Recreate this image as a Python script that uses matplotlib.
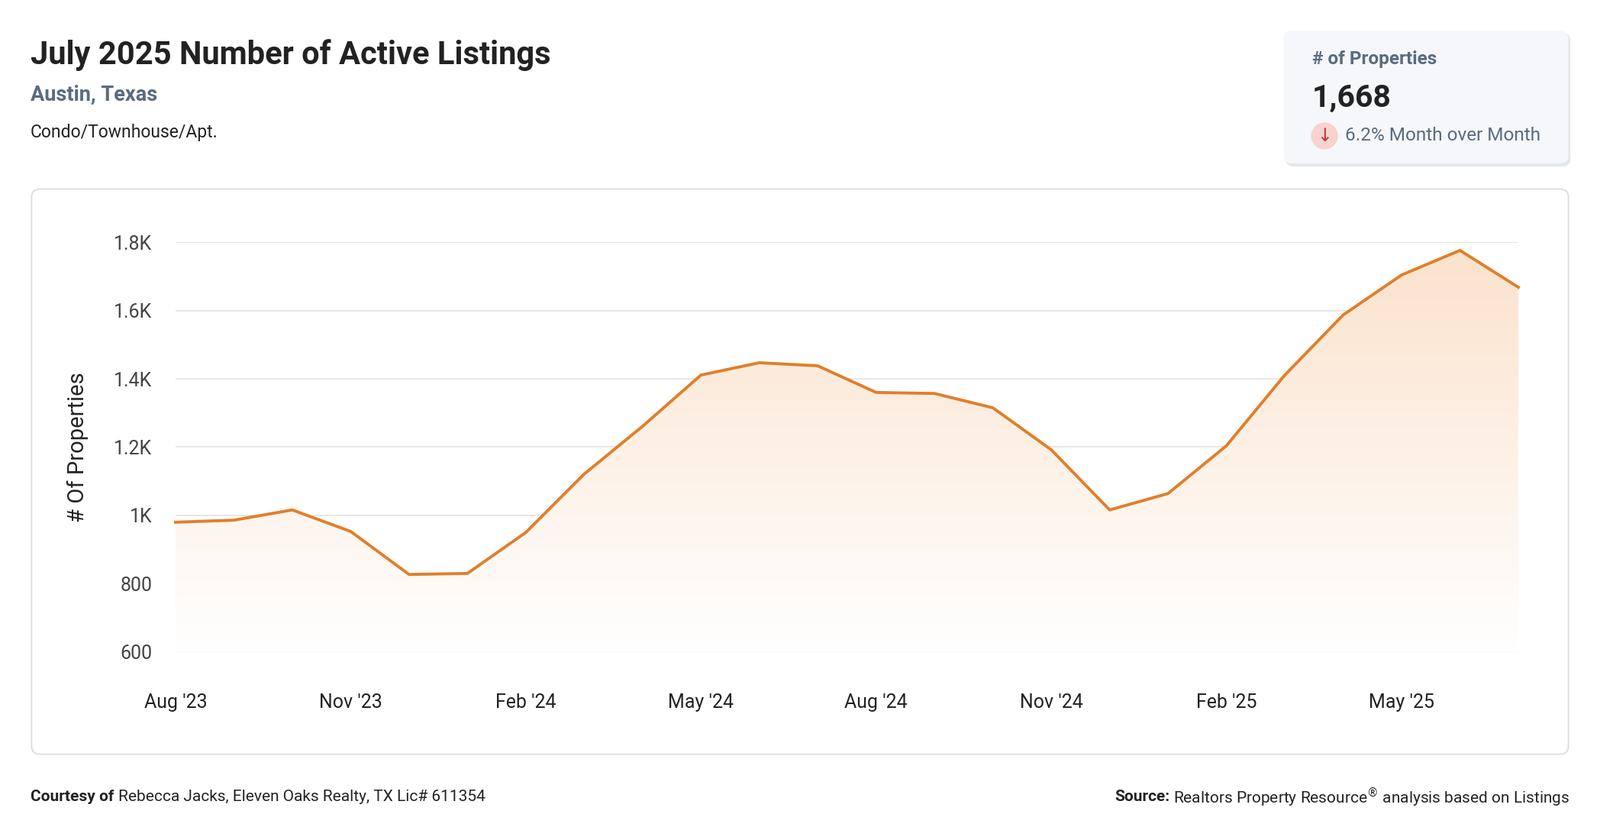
import matplotlib
matplotlib.use("Agg")
import matplotlib.pyplot as plt
import numpy as np
from matplotlib.patches import FancyBboxPatch, Ellipse
from matplotlib.path import Path
from matplotlib.patches import PathPatch

months = ["Aug '23","Sep '23","Oct '23","Nov '23","Dec '23","Jan '24","Feb '24","Mar '24","Apr '24",
          "May '24","Jun '24","Jul '24","Aug '24","Sep '24","Oct '24","Nov '24","Dec '24","Jan '25",
          "Feb '25","Mar '25","Apr '25","May '25","Jun '25","Jul '25"]
values = [980, 986, 1016, 953, 827, 830, 950, 1121, 1261, 1411, 1447, 1438, 1360, 1357, 1315, 1192,
          1016, 1064, 1204, 1411, 1587, 1704, 1776, 1668]
yticks = [600, 800, 1000, 1200, 1400, 1600, 1800]
ytick_labels = ["600", "800", "1K", "1.2K", "1.4K", "1.6K", "1.8K"]
xtick_idx = [0, 3, 6, 9, 12, 15, 18, 21]

plt.rcParams["font.family"] = "Roboto"
W, H = 1568, 822
fig = plt.figure(figsize=(20.96, 11), dpi=100)
def fx(x): return x / W
def fy(y): return 1 - y / H

def card(x0, y0, x1, y1, fc, ec, z):
    fig.patches.append(FancyBboxPatch((fx(x0), fy(y1)), fx(x1) - fx(x0), fy(y0) - fy(y1),
        boxstyle="round,pad=0,rounding_size=0.005", mutation_aspect=W / H,
        transform=fig.transFigure, facecolor=fc, edgecolor=ec, linewidth=1.3, zorder=z))

card(31, 185, 1537, 738, "none", "#d9dde3", 5)
card(1260, 32, 1539, 163, "#e4e7eb", "none", -2)
card(1258, 30, 1537, 160, "#f5f7fa", "none", -1)

fig.text(fx(30), fy(54), "July 2025 Number of Active Listings", fontsize=30, fontweight="bold",
         color="#222222", va="center")
fig.text(fx(30), fy(93), "Austin, Texas", fontsize=19.5, fontweight="bold", color="#5a6b7f", va="center")
fig.text(fx(30), fy(130), "Condo/Townhouse/Apt.", fontsize=16.5, color="#222222", va="center")

fig.text(fx(1286), fy(58), "# of Properties", fontsize=17.5, fontweight="bold", color="#5a6b7f", va="center")
fig.text(fx(1286), fy(96), "1,668", fontsize=29.5, fontweight="bold", color="#222222", va="center")
fig.patches.append(Ellipse((fx(1298), fy(133)), 0.0168, 0.0168 * W / H, transform=fig.transFigure,
                           facecolor="#f6d3cf", edgecolor="none", zorder=3))
fig.text(fx(1298), fy(133), "↓", fontsize=17, color="#c0392b", va="center", ha="center", zorder=4,
         fontfamily="DejaVu Sans")
fig.text(fx(1318), fy(133), "6.2% Month over Month", fontsize=17.6, color="#5a6b7f", va="center")

fig.canvas.draw()
r = fig.canvas.get_renderer()
fs = 15
t1 = fig.text(fx(30), fy(780), "Courtesy of ", fontsize=fs, fontweight="bold", color="#222222", va="center")
bb = t1.get_window_extent(r)
fig.text(bb.x1 / fig.bbox.width, fy(780), "Rebecca Jacks, Eleven Oaks Realty, TX Lic# 611354", fontsize=fs,
         color="#222222", va="center")
t2 = fig.text(fx(1538), fy(780), r"Realtors Property Resource$^{®}$ analysis based on Listings", fontsize=fs,
              color="#222222", va="center", ha="right")
bb2 = t2.get_window_extent(r)
fig.text(bb2.x0 / fig.bbox.width - 0.002, fy(780), "Source:", fontsize=fs, fontweight="bold",
         color="#222222", va="center", ha="right")

ax = fig.add_axes([fx(172), fy(638), fx(1488) - fx(172), fy(237) - fy(638)])
ax.patch.set_visible(False)
x = np.arange(len(values))
ax.set_xlim(0, len(values) - 1)
ax.set_ylim(600, 1800)
for s in ax.spines.values():
    s.set_visible(False)
ax.set_yticks(yticks)
ax.set_yticklabels(ytick_labels, fontsize=18, color="#444444")
ax.set_xticks(xtick_idx)
ax.set_xticklabels([months[i] for i in xtick_idx], fontsize=18, color="#222222")
ax.tick_params(length=0, axis="y", pad=22)
ax.tick_params(length=0, axis="x", pad=39)
ax.grid(axis="y", color="#e3e3e3", linewidth=1.2)
ax.set_axisbelow(True)
ax.set_ylabel("# Of Properties", fontsize=21, color="#222222", labelpad=24)

grad = np.linspace(0, 1, 256).reshape(-1, 1)
c_top = np.array([251, 226, 204]) / 255
c_bot = np.array([255, 255, 255]) / 255
img = (c_bot[None, :] + (c_top - c_bot)[None, :] * grad).reshape(256, 1, 3)
im = ax.imshow(img, extent=[0, len(values) - 1, 600, 1800], origin="lower", aspect="auto", zorder=1)
verts = [(0, 600)] + list(zip(x, values)) + [(len(values) - 1, 600), (0, 600)]
clip = PathPatch(Path(verts), transform=ax.transData, facecolor="none", edgecolor="none")
ax.add_patch(clip)
im.set_clip_path(clip)
ax.plot(x, values, color="#e07f2a", linewidth=2.8, zorder=3, clip_on=False, solid_joinstyle="round")

fig.savefig("out.png", dpi=100, facecolor="white")
